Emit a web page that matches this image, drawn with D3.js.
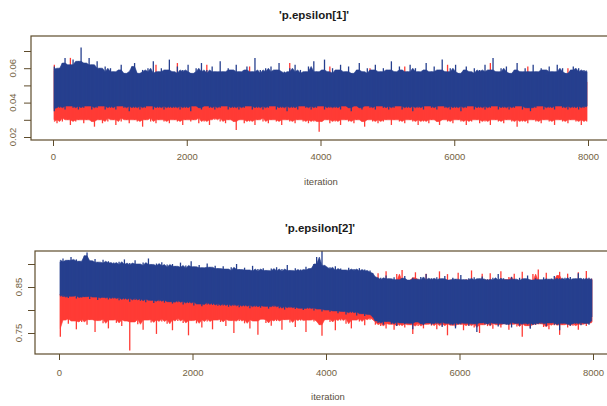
<!DOCTYPE html>
<html><head><meta charset="utf-8">
<script src="https://cdn.jsdelivr.net/npm/d3@7"></script>
<style>body{margin:0;background:#fff;}svg{display:block;font-family:"Liberation Sans",Arial,sans-serif;}</style>
</head><body>
<svg id="c" width="607" height="406"></svg>
<script>
// ---- data: for each chain, the highest and lowest
// value drawn in each block of 40 iterations (200 blocks, 0..8000) ----
const titles = ["'p.epsilon[1]'", "'p.epsilon[2]'"];
const xTicks = [0, 2000, 4000, 6000, 8000];
const yTicks1 = [0.02, 0.03, 0.04, 0.05, 0.06, 0.07];
const yLabels1 = [0.02, 0.04, 0.06];
const yTicks2 = [0.75, 0.80, 0.85, 0.90];
const yLabels2 = [0.75, 0.85];
const blockSize = 40;

const blue1Hi = [.061,.058,.060,.063,.066,.059,.062,.065,.060,.064,.072,.063,.061,.066,.062,.059,.064,.060,.058,.061,
.057,.060,.058,.056,.059,.062,.057,.055,.058,.061,.063,.057,.056,.059,.058,.060,.056,.064,.057,.058,
.060,.056,.059,.065,.058,.057,.061,.056,.059,.058,.062,.057,.055,.060,.058,.063,.057,.059,.056,.061,
.058,.057,.064,.058,.056,.060,.059,.057,.062,.058,.056,.059,.061,.057,.058,.066,.057,.059,.056,.060,
.058,.061,.057,.059,.063,.057,.058,.056,.060,.058,.062,.057,.059,.056,.058,.061,.057,.064,.058,.056,
.059,.065,.058,.057,.060,.056,.059,.062,.057,.058,.061,.057,.056,.059,.063,.058,.057,.060,.056,.059,
.062,.057,.058,.060,.056,.059,.064,.058,.057,.061,.059,.056,.058,.062,.057,.060,.058,.056,.059,.063,
.057,.058,.061,.056,.059,.065,.058,.057,.060,.058,.062,.057,.056,.059,.061,.058,.057,.060,.056,.059,
.058,.062,.057,.059,.066,.058,.057,.060,.058,.061,.057,.056,.059,.063,.058,.057,.060,.058,.056,.062,
.058,.057,.060,.059,.056,.061,.058,.057,.062,.058,.060,.057,.056,.059,.061,.058,.060,.057,.059,.058];
const blue1Lo = [.035,.038,.037,.039,.036,.038,.040,.037,.038,.036,.039,.037,.038,.040,.036,.038,.037,.039,.038,.036,
.038,.037,.039,.036,.038,.040,.037,.038,.035,.039,.037,.038,.036,.039,.037,.038,.040,.036,.038,.037,
.039,.036,.038,.037,.040,.037,.038,.036,.039,.037,.038,.035,.038,.039,.037,.036,.038,.040,.037,.038,
.036,.039,.037,.038,.040,.036,.038,.037,.039,.036,.038,.037,.040,.038,.036,.039,.037,.038,.036,.039,
.037,.038,.040,.036,.038,.037,.039,.035,.038,.037,.039,.036,.038,.040,.037,.038,.036,.039,.037,.038,
.039,.036,.038,.037,.040,.037,.038,.036,.039,.038,.037,.035,.038,.039,.037,.036,.038,.040,.037,.038,
.036,.038,.039,.037,.038,.036,.040,.037,.038,.039,.036,.038,.037,.039,.035,.038,.037,.040,.036,.038,
.038,.037,.039,.036,.038,.040,.037,.038,.036,.039,.037,.038,.035,.039,.037,.038,.040,.036,.038,.037,
.039,.036,.038,.037,.040,.038,.036,.039,.037,.038,.036,.040,.037,.038,.039,.036,.038,.037,.035,.039,
.037,.038,.040,.036,.038,.037,.039,.036,.038,.040,.037,.038,.036,.039,.037,.038,.036,.039,.037,.038];
const red1Hi = [.062,.054,.053,.055,.052,.054,.066,.053,.055,.052,.054,.053,.055,.052,.054,.053,.052,.055,.053,.054,
.059,.053,.052,.054,.055,.053,.052,.054,.053,.055,.052,.054,.053,.052,.055,.053,.054,.052,.062,.053,
.054,.052,.055,.053,.054,.052,.063,.053,.055,.052,.054,.053,.052,.055,.053,.054,.052,.062,.055,.052,
.053,.055,.052,.054,.053,.052,.055,.053,.054,.052,.053,.055,.052,.061,.053,.052,.054,.053,.055,.052,
.054,.052,.053,.055,.052,.054,.053,.052,.063,.053,.054,.052,.053,.055,.052,.054,.053,.052,.054,.053,
.052,.054,.053,.061,.052,.053,.054,.052,.055,.053,.052,.054,.053,.052,.055,.053,.054,.052,.060,.054,
.055,.052,.054,.053,.052,.055,.053,.054,.052,.053,.055,.061,.054,.053,.052,.054,.053,.055,.052,.054,
.053,.052,.055,.053,.054,.052,.053,.062,.052,.054,.053,.052,.055,.053,.054,.052,.053,.054,.052,.055,
.053,.054,.052,.063,.055,.052,.054,.053,.052,.055,.053,.054,.052,.053,.055,.052,.054,.061,.052,.054,
.055,.053,.052,.054,.053,.055,.052,.053,.054,.052,.055,.053,.060,.054,.053,.052,.055,.053,.054,.052];
const red1Lo = [.030,.028,.031,.029,.032,.030,.027,.031,.029,.030,.032,.028,.030,.031,.029,.026,.031,.030,.028,.031,
.029,.031,.030,.027,.031,.029,.032,.030,.028,.031,.030,.029,.031,.026,.030,.032,.029,.031,.028,.030,
.031,.029,.030,.028,.032,.030,.029,.031,.027,.030,.031,.029,.030,.032,.028,.031,.029,.030,.027,.031,
.030,.032,.029,.031,.028,.030,.031,.029,.024,.030,.031,.028,.030,.029,.031,.027,.030,.032,.029,.031,
.028,.030,.031,.029,.030,.027,.031,.030,.029,.031,.028,.030,.032,.029,.030,.028,.031,.029,.030,.023,
.029,.031,.030,.028,.031,.029,.030,.027,.031,.030,.029,.031,.028,.030,.031,.029,.026,.030,.031,.029,
.030,.028,.031,.029,.030,.032,.027,.030,.031,.029,.030,.028,.031,.030,.029,.031,.027,.030,.029,.031,
.028,.030,.031,.029,.027,.030,.031,.029,.030,.028,.031,.030,.029,.031,.027,.030,.029,.031,.030,.028,
.031,.029,.030,.027,.031,.030,.029,.031,.028,.030,.031,.029,.030,.026,.031,.029,.030,.028,.031,.030,
.029,.031,.028,.030,.031,.029,.030,.027,.031,.030,.029,.031,.028,.030,.031,.029,.030,.027,.031,.029];

const blue2Hi = [.905,.912,.902,.908,.915,.903,.910,.906,.900,.918,.925,.907,.903,.911,.904,.899,.909,.902,.906,.900,
.903,.897,.905,.899,.910,.898,.902,.896,.908,.900,.895,.903,.897,.912,.899,.894,.901,.896,.904,.893,
.899,.892,.900,.895,.893,.903,.891,.897,.890,.906,.894,.889,.898,.892,.887,.901,.893,.888,.896,.890,
.887,.895,.889,.884,.893,.886,.900,.888,.883,.892,.887,.885,.896,.884,.889,.882,.891,.886,.883,.890,
.885,.893,.884,.889,.882,.898,.886,.883,.891,.885,.888,.882,.894,.887,.890,.900,.915,.892,.930,.897,
.889,.893,.886,.895,.884,.890,.887,.882,.892,.886,.889,.883,.891,.885,.888,.882,.886,.880,
.872,.866,.870,.864,.875,.868,.862,.871,.866,.860,.869,.874,.865,.861,.870,.867,.863,.872,.866,.878,.864,.869,
.866,.871,.862,.868,.874,.865,.861,.870,.867,.863,.876,.866,.862,.869,.865,.871,.860,.868,.873,.864,
.867,.862,.870,.865,.878,.863,.869,.866,.861,.872,.867,.864,.870,.862,.868,.875,.865,.861,.869,.866,
.863,.871,.866,.868,.862,.874,.865,.869,.863,.870,.866,.872,.862,.868,.880,.865,.869,.864,.870,.866];
const blue2Lo = [.832,.828,.835,.826,.830,.833,.825,.831,.827,.829,.834,.824,.830,.828,.822,.831,.826,.829,.823,.828,
.825,.830,.821,.827,.823,.829,.818,.826,.822,.828,.820,.825,.817,.824,.821,.815,.823,.819,.826,.816,
.822,.818,.814,.821,.817,.823,.812,.819,.815,.821,.810,.818,.813,.808,.817,.812,.820,.811,.816,.809,
.814,.810,.818,.807,.813,.809,.815,.806,.812,.808,.816,.804,.811,.807,.813,.805,.810,.808,.803,.811,
.807,.812,.804,.809,.801,.808,.805,.810,.802,.807,.804,.800,.808,.803,.806,.799,.805,.802,.797,.804,
.800,.796,.803,.798,.793,.801,.797,.790,.799,.794,.798,.788,.796,.792,.787,.795,.790,.785,
.776,.772,.779,.768,.775,.781,.770,.774,.765,.778,.772,.769,.776,.771,.758,.774,.779,.770,.767,.775,.772,.768,
.777,.770,.774,.763,.776,.771,.768,.775,.760,.773,.769,.777,.771,.766,.774,.770,.752,.772,.776,.769,
.773,.767,.776,.771,.764,.775,.770,.768,.774,.762,.777,.771,.766,.773,.769,.775,.759,.772,.768,.776,
.770,.774,.765,.772,.777,.768,.773,.756,.771,.775,.769,.766,.774,.770,.773,.767,.775,.771,.768,.785];
const red2Hi = [.835,.828,.832,.830,.838,.826,.833,.829,.836,.827,.831,.834,.828,.832,.826,.830,.835,.827,.831,.829,
.828,.832,.825,.830,.827,.833,.824,.829,.826,.831,.823,.828,.825,.830,.822,.827,.824,.829,.821,.826,
.823,.827,.820,.825,.822,.826,.819,.824,.821,.825,.818,.823,.820,.824,.817,.822,.819,.823,.816,.821,
.818,.822,.815,.820,.817,.821,.814,.819,.816,.820,.813,.818,.815,.819,.812,.817,.814,.818,.811,.816,
.813,.817,.810,.815,.812,.816,.809,.814,.811,.815,.808,.813,.810,.814,.807,.812,.809,.813,.806,.811,
.808,.812,.815,.810,.818,.813,.820,.816,.822,.818,.825,.821,.828,.830,.835,.840,.848,.855,
.862,.880,.858,.866,.884,.860,.864,.857,.878,.863,.887,.859,.865,.861,.870,.882,.858,.866,.862,.879,.860,.867,
.863,.858,.884,.865,.860,.878,.862,.866,.859,.881,.864,.861,.867,.858,.886,.863,.860,.866,.879,.861,
.865,.880,.859,.864,.862,.884,.858,.866,.872,.860,.879,.863,.861,.883,.859,.866,.862,.878,.860,.888,
.864,.859,.881,.862,.866,.858,.875,.883,.860,.864,.879,.857,.866,.862,.882,.859,.865,.885,.861,.868];
const red2Lo = [.742,.778,.781,.770,.783,.776,.758,.780,.774,.785,.768,.779,.782,.752,.777,.784,.771,.780,.760,.778,
.783,.772,.779,.765,.781,.776,.712,.774,.782,.769,.780,.757,.778,.784,.773,.779,.748,.781,.775,.783,
.770,.779,.756,.782,.776,.784,.772,.780,.745,.777,.783,.771,.779,.762,.781,.775,.784,.758,.778,.782,
.774,.780,.765,.783,.777,.750,.781,.776,.784,.771,.779,.760,.782,.776,.746,.780,.783,.772,.779,.766,
.781,.776,.784,.757,.779,.782,.773,.780,.763,.783,.777,.781,.752,.778,.784,.775,.780,.768,.744,.779,
.783,.774,.780,.756,.782,.777,.785,.770,.781,.760,.778,.784,.775,.781,.767,.783,.779,.786,
.768,.774,.765,.771,.760,.776,.769,.757,.773,.766,.770,.762,.775,.768,.748,.771,.765,.773,.760,.769,.776,.766,
.771,.758,.774,.766,.770,.745,.772,.767,.763,.775,.769,.756,.773,.766,.770,.762,.776,.750,.768,.772,
.765,.771,.759,.774,.768,.762,.770,.776,.757,.769,.773,.764,.770,.742,.772,.766,.761,.774,.768,.770,
.774,.763,.769,.758,.772,.767,.771,.746,.768,.774,.762,.770,.766,.773,.757,.769,.772,.765,.771,.774];

// ---- drawing ----
const svg = d3.select("#c");
const axisCol = "#5e4c2c", labCol = "#74633f";
const RED = "#ff3b35", BLUE = "#263f8e";

const panels = [
  {title: titles[0], chains: [[red1Hi, red1Lo, RED], [blue1Hi, blue1Lo, BLUE]],
   yTicks: yTicks1, yLabels: yLabels1,
   box: {x0: 31, x1: 612, y0: 36, y1: 140}, xr: [53, 588], yDom: [0.02, 0.07], yr: [137, 51],
   titleX: 314, titleY: 19, labX: 13, tickLabY: 157, iterX: 321, iterY: 185},
  {title: titles[1], chains: [[red2Hi, red2Lo, RED], [blue2Hi, blue2Lo, BLUE]],
   yTicks: yTicks2, yLabels: yLabels2,
   box: {x0: 35, x1: 612, y0: 251, y1: 354}, xr: [59, 593], yDom: [0.75, 0.90], yr: [333, 264],
   titleX: 320, titleY: 232, labX: 19, tickLabY: 373, iterX: 328, iterY: 400}
];

// running median of neighbouring blocks: the dense core of the trace
const core = (arr, w) => arr.map((v, i) => d3.median(arr.slice(Math.max(0, i - w), i + w + 1)));

panels.forEach((p, k) => {
  const x = d3.scaleLinear().domain([0, 8000]).range(p.xr);
  const y = d3.scaleLinear().domain(p.yDom).range(p.yr);
  const g = svg.append("g");
  const cp = "clip" + k;
  svg.append("clipPath").attr("id", cp).append("rect")
    .attr("x", p.box.x0).attr("y", p.box.y0).attr("width", p.box.x1 - p.box.x0).attr("height", p.box.y1 - p.box.y0);
  const lg = g.append("g").attr("clip-path", `url(#${cp})`);
  p.chains.forEach(([hi, lo, col]) => {
    const cx = i => x(i * blockSize + blockSize / 2);
    const hiC = core(hi, 1), loC = core(lo, 1);
    const area = d3.area()
      .x((d, i) => cx(i))
      .y0((d, i) => y(loC[i]))
      .y1(d => y(d));
    lg.append("path").datum(hiC).attr("d", area).attr("fill", col)
      .attr("stroke", col).attr("stroke-width", 0.6);
    // each block's full excursion as a vertical needle
    lg.append("g").selectAll("line").data(hi).join("line")
      .attr("x1", (d, i) => cx(i)).attr("x2", (d, i) => cx(i))
      .attr("y1", (d, i) => y(lo[i])).attr("y2", d => y(d))
      .attr("stroke", col).attr("stroke-width", 1.3);
  });

  g.append("rect").attr("x", p.box.x0).attr("y", p.box.y0)
    .attr("width", p.box.x1 - p.box.x0).attr("height", p.box.y1 - p.box.y0)
    .attr("fill", "none").attr("stroke", axisCol).attr("stroke-width", 1.2);

  const xa = g.append("g").attr("transform", `translate(0,${p.box.y1})`)
    .call(d3.axisBottom(x).tickValues(xTicks).tickSize(6).tickFormat(d3.format("d")));
  xa.select(".domain").remove();
  xa.selectAll("line").attr("stroke", axisCol);
  xa.selectAll("text").attr("fill", labCol).attr("font-size", 9.5)
    .attr("y", p.tickLabY - p.box.y1).attr("dy", "0.35em");

  const ya = g.append("g").attr("transform", `translate(${p.box.x0},0)`)
    .call(d3.axisLeft(y).tickValues(p.yTicks).tickSize(7).tickFormat(() => ""));
  ya.select(".domain").remove();
  ya.selectAll("line").attr("stroke", axisCol);
  g.selectAll(".ylab").data(p.yLabels).enter().append("text")
    .attr("transform", d => `translate(${p.labX},${y(d)}) rotate(-90)`)
    .attr("text-anchor", "middle").attr("dy", "0.35em")
    .attr("fill", labCol).attr("font-size", 9.5).text(d => d3.format(".2f")(d));

  g.append("text").attr("x", p.titleX).attr("y", p.titleY)
    .attr("text-anchor", "middle").attr("font-weight", "bold").attr("font-size", 11.5).attr("fill", "#1a1a1a")
    .text(p.title);
  g.append("text").attr("x", p.iterX).attr("y", p.iterY)
    .attr("text-anchor", "middle").attr("font-size", 9.5).attr("fill", "#5a5040").text("iteration");
});
</script>
</body></html>
